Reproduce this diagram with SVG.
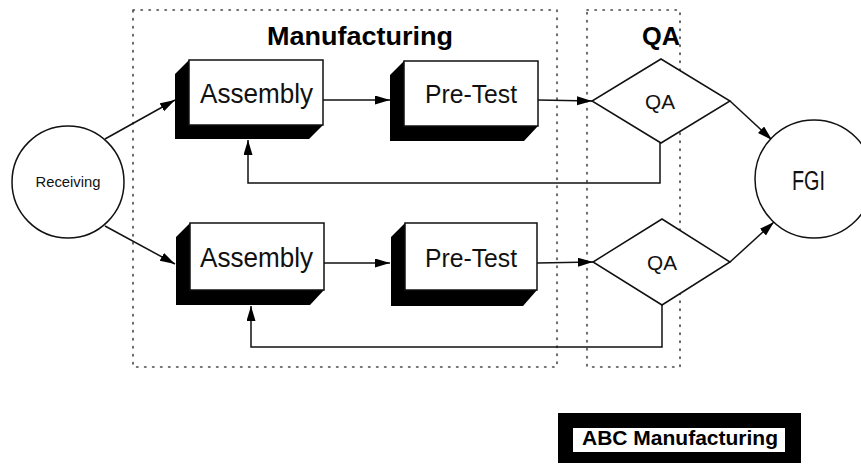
<svg xmlns="http://www.w3.org/2000/svg" width="861" height="466" viewBox="0 0 861 466">
<defs>
<style>
.bg{fill:#fff}
.zone{fill:none;stroke:#444;stroke-width:1.6;stroke-dasharray:1.4 6.6;stroke-linecap:round}
.front{fill:#fff;stroke:#111;stroke-width:1.5}
.shadow{fill:#000}
.shape{fill:#fff;stroke:#111;stroke-width:1.5}
.conn{fill:none;stroke:#111;stroke-width:1.5}
.t{font-family:"Liberation Sans",Arial,sans-serif;fill:#111;text-anchor:middle}
.b{font-family:"Liberation Sans",Arial,sans-serif;font-weight:bold;fill:#000;text-anchor:middle}
</style>
<marker id="arr" markerUnits="userSpaceOnUse" markerWidth="16" markerHeight="10" refX="15" refY="4.5" orient="auto">
<path d="M0,0 L15,4.5 L0,9 Z" fill="#000"/>
</marker>
</defs>
<rect class="bg" x="0" y="0" width="861" height="466"/>

<g id="zones">
<rect class="zone" x="133" y="10" width="424" height="357"/>
<rect class="zone" x="587" y="10" width="93" height="357"/>
<text class="b" x="360" y="45" font-size="25" textLength="186" lengthAdjust="spacingAndGlyphs">Manufacturing</text>
<text class="b" x="661" y="45" font-size="25" textLength="38" lengthAdjust="spacingAndGlyphs">QA</text>
</g>

<g id="connectors">
<line class="conn" x1="105" y1="139" x2="175" y2="100" marker-end="url(#arr)"/>
<line class="conn" x1="105" y1="226" x2="175" y2="264" marker-end="url(#arr)"/>
<line class="conn" x1="323" y1="100" x2="390" y2="100" marker-end="url(#arr)"/>
<line class="conn" x1="538" y1="100" x2="592" y2="101" marker-end="url(#arr)"/>
<line class="conn" x1="324" y1="263" x2="390" y2="263" marker-end="url(#arr)"/>
<line class="conn" x1="537" y1="263" x2="593" y2="262" marker-end="url(#arr)"/>
<line class="conn" x1="730" y1="101" x2="772" y2="140" marker-end="url(#arr)"/>
<line class="conn" x1="730" y1="262" x2="774" y2="222" marker-end="url(#arr)"/>
<polyline class="conn" points="660,143 660,183 248,183 248,140" marker-end="url(#arr)"/>
<polyline class="conn" points="662,305 662,347 251,347 251,306" marker-end="url(#arr)"/>
</g>

<g id="receiving">
<circle class="shape" cx="68" cy="182" r="56"/>
<text class="t" x="68" y="187" font-size="15" textLength="65" lengthAdjust="spacingAndGlyphs">Receiving</text>
</g>

<g id="assembly-1">
<polygon class="shadow" points="189,60 175,74 175,139 309,139 323,125 189,125"/>
<rect class="front" x="189" y="60" width="134" height="65"/>
<text class="t" x="256.5" y="103" font-size="27" textLength="113" lengthAdjust="spacingAndGlyphs">Assembly</text>
</g>

<g id="pretest-1">
<polygon class="shadow" points="404,61 390,75 390,141 524,141 538,126 404,126"/>
<rect class="front" x="404" y="61" width="134" height="65"/>
<text class="t" x="471" y="103" font-size="26" textLength="92" lengthAdjust="spacingAndGlyphs">Pre-Test</text>
</g>

<g id="qa-1">
<polygon class="shape" points="661,59 730,101 661,143 592,101"/>
<text class="t" x="660" y="109" font-size="20" textLength="30" lengthAdjust="spacingAndGlyphs">QA</text>
</g>

<g id="assembly-2">
<polygon class="shadow" points="190,223 176,237 176,305 310,305 324,290 190,290"/>
<rect class="front" x="190" y="223" width="134" height="67"/>
<text class="t" x="256.5" y="267" font-size="27" textLength="113" lengthAdjust="spacingAndGlyphs">Assembly</text>
</g>

<g id="pretest-2">
<polygon class="shadow" points="405,223 391,237 391,306 523,306 537,290 405,290"/>
<rect class="front" x="405" y="223" width="132" height="67"/>
<text class="t" x="471" y="267" font-size="26" textLength="92" lengthAdjust="spacingAndGlyphs">Pre-Test</text>
</g>

<g id="qa-2">
<polygon class="shape" points="662,219 730,262 662,305 593,262"/>
<text class="t" x="662" y="270" font-size="20" textLength="30" lengthAdjust="spacingAndGlyphs">QA</text>
</g>

<g id="fgi">
<circle class="shape" cx="814" cy="179" r="59"/>
<text class="t" x="808.5" y="190" font-size="27" textLength="33" lengthAdjust="spacingAndGlyphs">FGI</text>
</g>

<g id="abc-label">
<rect x="558" y="413" width="243" height="50" fill="#000"/>
<rect x="573" y="428" width="212" height="24" fill="#fff"/>
<text class="b" x="680" y="445" font-size="20" textLength="196" lengthAdjust="spacingAndGlyphs">ABC Manufacturing</text>
</g>
</svg>
